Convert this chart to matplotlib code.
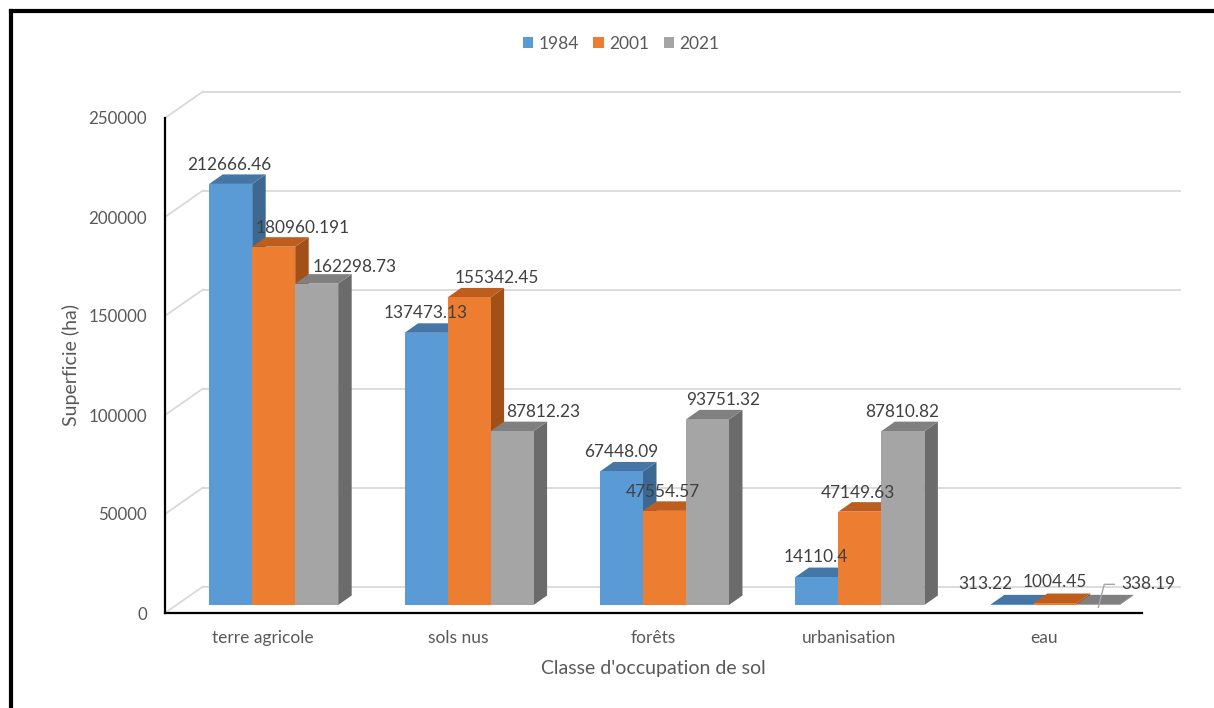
import matplotlib
matplotlib.use("Agg")
import matplotlib.pyplot as plt
from matplotlib.patches import Polygon, Patch
from matplotlib.lines import Line2D

# ---- data ----
categories = ["terre agricole", "sols nus", "forêts", "urbanisation", "eau"]
years = ["1984", "2001", "2021"]
v1984 = [212666.46, 137473.13, 67448.09, 14110.4, 313.22]
v2001 = [180960.191, 155342.45, 47554.57, 47149.63, 1004.45]
v2021 = [162298.73, 87812.23, 93751.32, 87810.82, 338.19]
yticks = [0, 50000, 100000, 150000, 200000, 250000]
ytick_labels = ["0", "50000", "100000", "150000", "200000", "250000"]

series = [v1984, v2001, v2021]

# ---- styles ----
front_cols = ["#5B9BD5", "#ED7D31", "#A5A5A5"]
top_cols = ["#4676A6", "#BD5E1E", "#808080"]
side_cols = ["#3C6892", "#A24F18", "#6B6B6B"]
txt_col = "#595959"
FONT = "Lato"

# label offsets in pixels (dx right, dy up) relative to bar front-top centre
label_off = [
    [(-1, 19), (-0.5, 20), (-0.5, 19.5), (-1, 20), (-27, 20)],
    [(29, 19), (27.5, 19), (-1.5, 19), (-2, 19), (-1, 21)],
    [(38, 17), (31, 19), (16, 19), (-1, 19), (50, 20)],
]

W, H = 1214, 708
fig = plt.figure(figsize=(W / 100, H / 100), dpi=100)
ax_l, ax_r, ax_t, ax_b = 165, 1142, 118, 613
ax = fig.add_axes([ax_l / W, (H - ax_b) / H, (ax_r - ax_l) / W, (ax_b - ax_t) / H])
ax.set_xlim(-0.5, 4.5)
ax.set_ylim(0, 250000)
for s in ax.spines.values():
    s.set_visible(False)

ux = 5.0 / (ax_r - ax_l)          # data units per pixel (x)
uy = 250000.0 / (ax_b - ax_t)     # data units per pixel (y)

# depth of the whole 3D box, of bar front plane and of bars (pixels)
DX, DY = 38, 26.5
FX, FY = 11, 8
BX, BY = 13.5, 9.5

# back wall gridlines and side wall diagonals
grid_col = "#D9D9D9"
for t in yticks:
    ax.plot([-0.5 + DX * ux, 4.5 + DX * ux], [t + DY * uy, t + DY * uy],
            color=grid_col, lw=1.3, clip_on=False, zorder=1)
    ax.plot([-0.5, -0.5 + DX * ux], [t, t + DY * uy],
            color=grid_col, lw=1.3, clip_on=False, zorder=1)

# front axis lines
ax.plot([-0.5, -0.5], [0, 250000], color="black", lw=1.6, clip_on=False, zorder=5)
ax.plot([-0.5, 4.5], [0, 0], color="black", lw=1.6, clip_on=False, zorder=5)

bw = 0.22
z = 2
for i in range(len(categories)):
    for s, vals in enumerate(series):
        v = vals[i]
        xl = i - 1.5 * bw + s * bw + FX * ux
        xr = xl + bw
        y0 = FY * uy
        y1 = v + FY * uy
        bx, by = BX * ux, BY * uy
        side = [(xr, y0), (xr + bx, y0 + by), (xr + bx, y1 + by), (xr, y1)]
        top = [(xl, y1), (xr, y1), (xr + bx, y1 + by), (xl + bx, y1 + by)]
        front = [(xl, y0), (xr, y0), (xr, y1), (xl, y1)]
        ax.add_patch(Polygon(side, closed=True, fc=side_cols[s], ec="none", zorder=z, clip_on=False))
        ax.add_patch(Polygon(top, closed=True, fc=top_cols[s], ec="none", zorder=z + 0.1, clip_on=False))
        ax.add_patch(Polygon(front, closed=True, fc=front_cols[s], ec="none", zorder=z + 0.2, clip_on=False))
        z += 0.5
        # label
        cx = (xl + xr) / 2
        dx, dy = label_off[s][i]
        lx, ly = cx + dx * ux, y1 + dy * uy
        ax.text(lx, ly, f"{v}", ha="center", va="center", fontsize=12.4,
                color="#404040", family=FONT, zorder=50, clip_on=False)
        if i == 4 and s == 2:
            ax.plot([cx, cx + 6 * ux, cx + 16 * ux],
                    [y1 - 3 * uy, ly, ly], color="#A6A6A6", lw=1,
                    clip_on=False, zorder=49)

# ticks
ax.set_yticks(yticks)
ax.set_yticklabels(ytick_labels, family=FONT, fontsize=12.2, color=txt_col)
ax.set_xticks(range(len(categories)))
ax.set_xticklabels(categories, family=FONT, fontsize=12.5, color=txt_col)
ax.tick_params(axis="y", length=0, pad=13)
ax.tick_params(axis="x", length=0, pad=12)

ax.set_ylabel("Superficie (ha)", family=FONT, fontsize=14, color=txt_col, labelpad=6)
ax.set_xlabel("Classe d'occupation de sol", family=FONT, fontsize=14, color=txt_col, labelpad=10)

# legend
handles = [Patch(facecolor=c, edgecolor="none") for c in front_cols]
fig.legend(handles, years, loc="center", bbox_to_anchor=(621 / W, 1 - 44 / H), ncol=3,
           frameon=False, prop={"family": FONT, "size": 12.5},
           handlelength=0.6, handleheight=0.6, handletextpad=0.3, columnspacing=0.85,
           labelcolor=txt_col)

# outer frame (top and left visible)
fig.add_artist(Line2D([11 / W, 1.0], [1 - 11 / H, 1 - 11 / H], color="black", lw=3, transform=fig.transFigure))
fig.add_artist(Line2D([11 / W, 11 / W], [0, 1 - 11 / H], color="black", lw=3, transform=fig.transFigure))

fig.savefig("out.png", dpi=100)
